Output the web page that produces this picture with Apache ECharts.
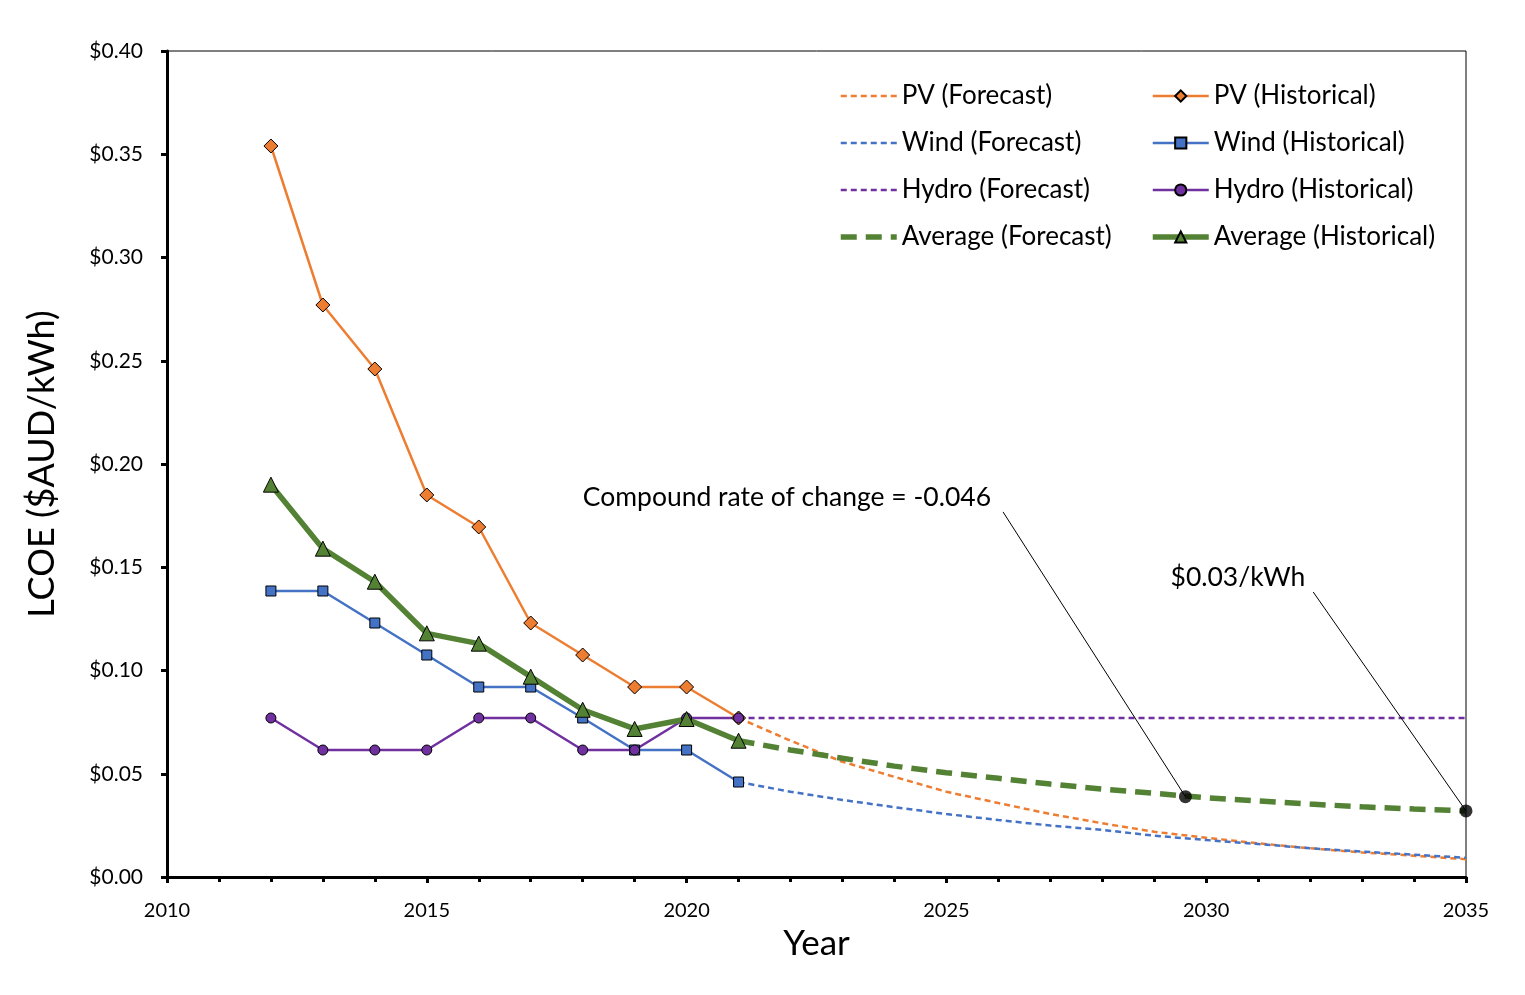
<!DOCTYPE html>
<html>
<head>
<meta charset="utf-8">
<script src="https://cdn.jsdelivr.net/npm/echarts@6/dist/echarts.min.js"></script>
<style>html,body{margin:0;padding:0;background:#fff;}#c{width:1525px;height:995px;}</style>
</head>
<body>
<div id="c"></div>
<script>
var histYears = [2012, 2013, 2014, 2015, 2016, 2017, 2018, 2019, 2020, 2021];
var pvHist    = [0.354, 0.277, 0.246, 0.185, 0.1695, 0.123, 0.1075, 0.092, 0.092, 0.077];
var windHist  = [0.1385, 0.1385, 0.123, 0.1075, 0.092, 0.092, 0.077, 0.0615, 0.0615, 0.046];
var hydroHist = [0.077, 0.0615, 0.0615, 0.0615, 0.077, 0.077, 0.0615, 0.0615, 0.077, 0.077];
var avgHist   = [0.19, 0.159, 0.143, 0.118, 0.113, 0.097, 0.081, 0.0717, 0.0765, 0.066];

var fcYears  = [2021, 2022, 2023, 2024, 2025, 2026, 2027, 2028, 2029, 2030, 2031, 2032, 2033, 2034, 2035];
var pvFc     = [0.077, 0.066, 0.0558, 0.0485, 0.0413, 0.0358, 0.0305, 0.026, 0.0219, 0.019, 0.0163, 0.0139, 0.0119, 0.0103, 0.0086];
var windFc   = [0.046, 0.0413, 0.0373, 0.0338, 0.0305, 0.0276, 0.0249, 0.0228, 0.020, 0.0179, 0.016, 0.0139, 0.0123, 0.0108, 0.0093];
var hydroFc  = [0.077, 0.077, 0.077, 0.077, 0.077, 0.077, 0.077, 0.077, 0.077, 0.077, 0.077, 0.077, 0.077, 0.077, 0.077];
var avgFc    = [0.066, 0.0615, 0.0575, 0.0537, 0.0505, 0.0478, 0.045, 0.0426, 0.0405, 0.0384, 0.0368, 0.0353, 0.034, 0.0329, 0.032];

var calloutYears  = [2029.6, 2035];
var calloutValues = [0.0389, 0.032];
var calloutTextAt = [[2026.09, 0.1768], [2032.06, 0.138]];
var calloutTexts  = ['Compound rate of change = -0.046', '$0.03/kWh'];

var forecastNames   = ['PV (Forecast)', 'Wind (Forecast)', 'Hydro (Forecast)', 'Average (Forecast)'];
var historicalNames = ['PV (Historical)', 'Wind (Historical)', 'Hydro (Historical)', 'Average (Historical)'];

var xTicks = {min: 2010, max: 2035, step: 5};
var yTicks = {min: 0, max: 0.4, step: 0.05};

function pairs(xs, ys) { return xs.map(function (x, i) { return [x, ys[i]]; }); }

var ORANGE = '#ED7D31', BLUE = '#4472C4', PURPLE = '#7030A0', GREEN = '#548235';
var FONT = 'Lato, "Open Sans", sans-serif';
var THIN = 2.5, THICK = 5.5;

function fcSeries(name, data, color, width, dash) {
  return {
    name: name, type: 'line', data: data, showSymbol: false, symbol: 'none',
    lineStyle: {color: color, width: width, type: dash}, itemStyle: {color: color},
    z: 2, animation: false, smooth: false
  };
}
function histSeries(name, data, color, width, symbol, size) {
  return {
    name: name, type: 'line', data: data, symbol: symbol, symbolSize: size, showAllSymbol: true,
    lineStyle: {color: color, width: width}, itemStyle: {color: color, borderColor: '#000', borderWidth: 1},
    z: 3, animation: false
  };
}

var chart = echarts.init(document.getElementById('c'), null, {renderer: 'canvas'});
var legendText = {fontFamily: FONT, fontSize: 26, color: '#000', lineHeight: 28, padding: 0};
var fcLegend = forecastNames.map(function (n, i) {
  return {name: n, itemStyle: {opacity: 0}, lineStyle: {width: i === 3 ? THICK : THIN}};
});
var histLegend = historicalNames.map(function (n, i) {
  return {name: n, lineStyle: {width: i === 3 ? THICK : THIN}};
});
var option = {
  backgroundColor: '#fff',
  animation: false,
  grid: {left: 167, right: 59, top: 51, bottom: 118, show: true, borderColor: '#000', borderWidth: 1, backgroundColor: 'transparent'},
  legend: [
    {data: fcLegend,
     orient: 'vertical', left: 838, top: 82, padding: 0, itemWidth: 56, itemHeight: 14, itemGap: 19,
     textStyle: legendText},
    {data: histLegend,
     orient: 'vertical', left: 1150, top: 82, padding: 0, itemWidth: 56, itemHeight: 14, itemGap: 19,
     textStyle: legendText}
  ],
  xAxis: {
    type: 'value', min: xTicks.min, max: xTicks.max, interval: xTicks.step,
    name: 'Year', nameLocation: 'middle', nameGap: 45,
    nameTextStyle: {fontFamily: FONT, fontSize: 35, color: '#000'},
    axisLine: {show: true, onZero: false, lineStyle: {color: '#000', width: 3}},
    axisTick: {show: true, inside: false, length: 6, lineStyle: {color: '#000', width: 3}},
    minorTick: {show: true, splitNumber: 5, length: 5, lineStyle: {color: '#000', width: 3}},
    splitLine: {show: false},
    axisLabel: {fontFamily: FONT, fontSize: 20, color: '#000', margin: 24, formatter: function (v) { return String(v); }}
  },
  yAxis: {
    type: 'value', min: yTicks.min, max: yTicks.max, interval: yTicks.step,
    name: 'LCOE ($AUD/kWh)', nameLocation: 'middle', nameGap: 107,
    nameTextStyle: {fontFamily: FONT, fontSize: 36, color: '#000'},
    axisLine: {show: true, lineStyle: {color: '#000', width: 3}},
    axisTick: {show: true, inside: false, length: 6, lineStyle: {color: '#000', width: 3}},
    splitLine: {show: false},
    axisLabel: {fontFamily: FONT, fontSize: 21, color: '#000', margin: 24, formatter: function (v) { return '$' + v.toFixed(2); }}
  },
  series: [
    fcSeries(forecastNames[0], pairs(fcYears, pvFc), ORANGE, THIN, [6, 4]),
    fcSeries(forecastNames[1], pairs(fcYears, windFc), BLUE, THIN, [6, 4]),
    fcSeries(forecastNames[2], pairs(fcYears, hydroFc), PURPLE, THIN, [6, 4]),
    fcSeries(forecastNames[3], pairs(fcYears, avgFc), GREEN, THICK, [16, 9]),
    histSeries(historicalNames[0], pairs(histYears, pvHist), ORANGE, THIN, 'diamond', 14),
    histSeries(historicalNames[1], pairs(histYears, windHist), BLUE, THIN, 'rect', 10),
    histSeries(historicalNames[2], pairs(histYears, hydroHist), PURPLE, THIN, 'circle', 10),
    histSeries(historicalNames[3], pairs(histYears, avgHist), GREEN, THICK, 'triangle', 15),
    {
      name: 'callouts', type: 'scatter', data: pairs(calloutYears, calloutValues),
      symbol: 'circle', symbolSize: 13, itemStyle: {color: '#000'}, z: 10, animation: false,
      markLine: {
        silent: true, symbol: ['none', 'none'], animation: false,
        lineStyle: {color: '#000', width: 1, type: 'solid'}, label: {show: false},
        data: calloutYears.map(function (x, i) {
          return [{coord: calloutTextAt[i]}, {coord: [x, calloutValues[i]]}];
        })
      }
    }
  ],
  graphic: []
};
chart.setOption(option);

function placeTexts() {
  var p1 = chart.convertToPixel({gridIndex: 0}, calloutTextAt[0]);
  var p2 = chart.convertToPixel({gridIndex: 0}, calloutTextAt[1]);
  chart.setOption({graphic: [
    {type: 'text', x: p1[0] - 12, y: p1[1] - 14,
     style: {text: calloutTexts[0], font: '26.5px ' + FONT, fill: '#000', align: 'right', verticalAlign: 'middle'}},
    {type: 'text', x: p2[0] - 8, y: p2[1] - 15,
     style: {text: calloutTexts[1], font: '26.5px ' + FONT, fill: '#000', align: 'right', verticalAlign: 'middle'}}
  ]});
}
placeTexts();
</script>
</body>
</html>
